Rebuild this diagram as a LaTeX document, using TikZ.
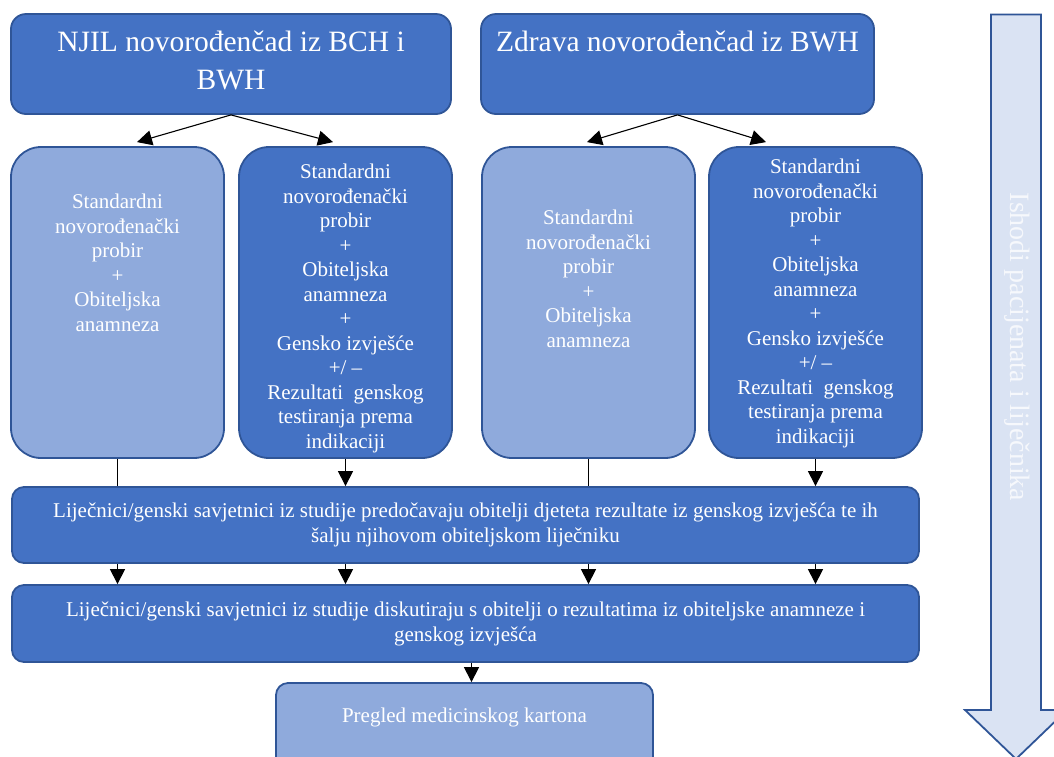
\documentclass[tikz,border=0pt]{standalone}
\usepackage{fontspec}
\setmainfont{Liberation Serif}
\usetikzlibrary{arrows.meta,calc}
\definecolor{dk}{HTML}{4472C4}
\definecolor{lt}{HTML}{8FAADC}
\definecolor{bd}{HTML}{2F5597}
\definecolor{pale}{HTML}{DAE3F3}
\begin{document}
\begin{tikzpicture}[x=1pt,y=-1pt,
  topbox/.style={draw=bd,line width=1.8pt,fill=dk,rounded corners=15pt,inner sep=0pt,minimum height=100pt},
  colbox/.style={draw=bd,line width=1.8pt,rounded corners=30pt,inner sep=0pt,minimum width=213pt,minimum height=311pt},
  widebox/.style={draw=bd,line width=1.8pt,fill=dk,rounded corners=12pt,inner sep=0pt,minimum width=907pt,text=white,align=center,font=\fontsize{21}{25}\selectfont},
  txt/.style={text=white,align=center,inner sep=0pt,font=\fontsize{21}{24.5}\selectfont},
  ttl/.style={text=white,align=center,inner sep=0pt,font=\fontsize{29.5}{38}\selectfont},
  conn/.style={line width=1.1pt,black},
  arr/.style={conn,-{Triangle[length=15pt,width=15pt]}}]
\useasboundingbox (0,0) rectangle (1054,756);
\clip (0,0) rectangle (1054,756);
% big arrow
\draw[fill=pale,draw=bd,line width=1.8pt,line join=miter]
  (991,14.5) -- (1041,14.5) -- (1041,710) -- (1067,710) -- (1016,759) -- (965,710) -- (991,710) -- cycle;
\node[rotate=-90,text=white!75!pale,inner sep=0pt,font=\fontsize{28}{32}\selectfont] (lbl) at (1017,347) {Ishodi pacijenata i liječnika};
% top boxes
\node[topbox,minimum width=440pt] (A) at (231,64) {};
\node[topbox,minimum width=393pt] (B) at (677.5,64) {};
\node[ttl,anchor=north] (tA) at (231,31) {NJIL novorođenčad iz BCH i\\BWH};
\node[ttl,anchor=north] (tB) at (677.5,31) {Zdrava novorođenčad iz BWH};
% column boxes
\node[colbox,fill=lt] (C1) at (117.5,302.5) {};
\node[colbox,fill=dk] (C2) at (345.5,302.5) {};
\node[colbox,fill=lt] (C3) at (588.5,302.5) {};
\node[colbox,fill=dk] (C4) at (815.5,302.5) {};
\node[txt,anchor=north] (t1) at (117.5,194) {Standardni\\novorođenački\\probir\\+\\Obiteljska\\anamneza};
\node[txt,anchor=north] (t2) at (345.5,164) {Standardni\\novorođenački\\probir\\+\\Obiteljska\\anamneza\\+\\Gensko izvješće\\+/ –\\Rezultati~ genskog\\testiranja prema\\indikaciji};
\node[txt,anchor=north] (t3) at (588.5,210) {Standardni\\novorođenački\\probir\\+\\Obiteljska\\anamneza};
\node[txt,anchor=north] (t4) at (815.5,159) {Standardni\\novorođenački\\probir\\+\\Obiteljska\\anamneza\\+\\Gensko izvješće\\+/ –\\Rezultati~ genskog\\testiranja prema\\indikaciji};
% wide boxes
\node[widebox,minimum height=76pt] (D) at (465.5,525) {Liječnici/genski savjetnici iz studije predočavaju obitelji djeteta rezultate iz genskog izvješća te ih\\šalju njihovom obiteljskom liječniku};
\node[widebox,minimum height=77pt] (E) at (465.5,623.5) {Liječnici/genski savjetnici iz studije diskutiraju s obitelji o rezultatima iz obiteljske anamneze i\\genskog izvješća};
\node[draw=bd,line width=1.8pt,fill=lt,rounded corners=12pt,inner sep=0pt,minimum width=377pt,minimum height=87pt] (F) at (464.5,726.5) {};
\node[txt,anchor=base] (tF) at (464.5,722) {Pregled medicinskog kartona};
% connectors
\draw[arr] (A.south) -- ($(C1.north)+(19.5,-4)$);
\draw[arr] (A.south) -- ($(C2.north)+(-12.5,-4)$);
\draw[arr] (B.south) -- ($(C3.north)+(-1.5,-4)$);
\draw[arr] (B.south) -- ($(C4.north)+(-49.5,-4)$);
\draw[conn] (C1.south) -- (C1.south |- D.north);
\draw[arr] (C2.south) -- (C2.south |- D.north);
\draw[conn] (C3.south) -- (C3.south |- D.north);
\draw[arr] (C4.south) -- (C4.south |- D.north);
\draw[arr] (C1.south |- D.south) -- (C1.south |- E.north);
\draw[arr] (C2.south |- D.south) -- (C2.south |- E.north);
\draw[arr] (C3.south |- D.south) -- (C3.south |- E.north);
\draw[arr] (C4.south |- D.south) -- (C4.south |- E.north);
\coordinate (fin) at ($(F.north)+(7,0)$);
\draw[arr] (fin |- E.south) -- (fin);
\end{tikzpicture}
\end{document}
